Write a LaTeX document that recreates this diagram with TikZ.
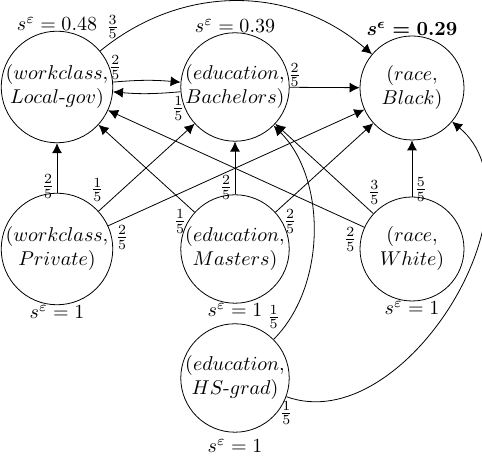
\documentclass[tikz,border=0pt]{standalone}
\usepackage{amsmath,amssymb}
\usepackage{tikz}
\usetikzlibrary{arrows.meta}

\tikzset{
  attr/.style={circle,draw,minimum size=52pt,inner sep=0pt,align=center},
  wt/.style={inner sep=1pt},
  >={Latex[length=5pt,width=5pt]}
}

\begin{document}
\begin{tikzpicture}

\useasboundingbox (0pt,0pt) rectangle (241pt,229pt);

\node[attr,label={[label distance=-3.5pt]above:$s^\varepsilon=0.48$}] (lg) at (28.5pt,185.5pt) {$(workclass,$\\$Local\text{-}gov)$};
\node[attr,label={[label distance=-3.5pt]above:$s^\varepsilon=0.39$}] (bach) at (117.5pt,185.5pt) {$(education,$\\$Bachelors)$};
\node[attr,label={[label distance=-3.5pt]above:$\boldsymbol{s^\epsilon=0.29}$}] (black) at (206pt,185pt) {$(race,$\\$Black)$};
\node[attr,label={[label distance=-3.5pt]below:$s^\varepsilon=1$}] (priv) at (28.5pt,104.5pt) {$(workclass,$\\$Private)$};
\node[attr,label={[label distance=-3.5pt]below:$s^\varepsilon=1$}] (mast) at (117.5pt,104.5pt) {$(education,$\\$Masters)$};
\node[attr,label={[label distance=-3.5pt]below:$s^\varepsilon=1$}] (white) at (206pt,104.5pt) {$(race,$\\$White)$};
\node[attr,label={[label distance=0pt]below:$s^\varepsilon=1$}] (hs) at (117.5pt,40pt) {$(education,$\\$HS\text{-}grad)$};

\draw[->] (lg) to[bend left=5] node[wt,pos=0.03,above] {$\frac{2}{5}$} (bach);
\draw[->] (bach) to[bend left=5] node[wt,pos=0.03,below=1pt] {$\frac{1}{5}$} (lg);
\draw[->] (lg) to[bend left=40] node[wt,pos=0.05,above] {$\frac{3}{5}$} (black);
\draw[->] (bach) -- node[wt,pos=0.07,above=-1pt] {$\frac{2}{5}$} (black);

\draw[->] (priv) -- node[wt,very near start,left] {$\frac{2}{5}$} (lg);
\draw[->] (priv) -- node[wt,pos=0.08,above left] {$\frac{1}{5}$} (bach);
\draw[->] (priv) -- node[wt,pos=0.02,below right] {$\frac{2}{5}$} (black);

\draw[->] (mast) -- node[wt,pos=0.06,below left] {$\frac{1}{5}$} (lg);
\draw[->] (mast) -- node[wt,very near start,left] {$\frac{2}{5}$} (bach);
\draw[->] (mast) -- node[wt,pos=0.06,below right] {$\frac{2}{5}$} (black);

\draw[->] (white) -- node[wt,pos=0.02,below left] {$\frac{2}{5}$} (lg);
\draw[->] (white) -- node[wt,pos=0.08,above right] {$\frac{3}{5}$} (bach);
\draw[->] (white) -- node[wt,very near start,right] {$\frac{5}{5}$} (black);

\draw[->] (hs) to[out=45,in=-45,looseness=0.9] node[wt,pos=0,above=4pt] {$\frac{1}{5}$} (bach);
\draw[->] (hs) to[out=-20,in=-40] node[wt,pos=0,below=1pt] {$\frac{1}{5}$} (black);

\end{tikzpicture}
\end{document}
